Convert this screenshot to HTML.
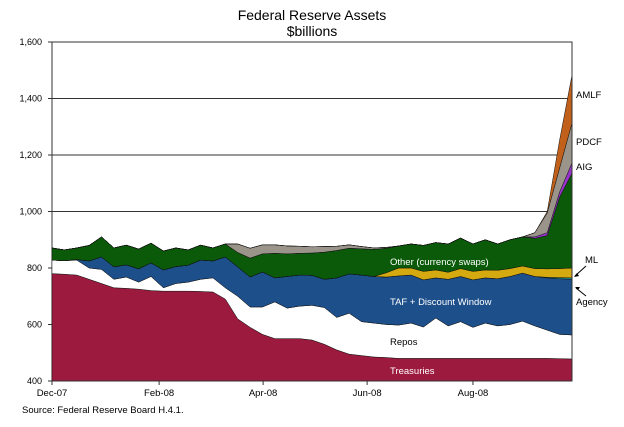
<!DOCTYPE html>
<html><head><meta charset="utf-8"><style>
body{margin:0;background:#fff;}
svg{display:block;font-family:"Liberation Sans","DejaVu Sans",sans-serif;}
</style></head><body>
<svg id="chart" width="624" height="427" viewBox="0 0 624 427" xmlns="http://www.w3.org/2000/svg">
<text x="312" y="20" text-anchor="middle" font-size="14">Federal Reserve Assets</text>
<text x="312" y="36" text-anchor="middle" font-size="14">$billions</text>
<g id="grid"></g>
<g id="areas"></g>
<g id="axes"></g>
<g id="labels"></g>
<text x="22" y="413" font-size="9.5">Source: Federal Reserve Board H.4.1.</text>
</svg>
<script>
const xTickLabels = ["Dec-07","Feb-08","Apr-08","Jun-08","Aug-08"];
const xTickIndex = [0, 8.65, 17.05, 25.45, 34];
const yTicks = [400,600,800,1000,1200,1400,1600];
const seriesNames = ["Treasuries","Repos","TAF + Discount Window","Agency","ML","Other (currency swaps)","AIG","PDCF","AMLF"];
const treasuries = [780,778,775,760,745,730,728,725,720,718,718,718,717,715,690,620,590,565,550,550,550,545,530,510,495,490,485,483,480,480,480,480,480,480,480,480,480,480,480,480,480,479,478];
const repos = [48,48,53,40,50,30,40,25,50,12,27,32,43,50,40,80,72,97,130,108,115,123,130,115,145,120,120,117,118,125,111,143,115,130,110,125,115,120,132,115,100,86,85];
const taf = [0,0,2,25,44,44,43,47,48,63,60,60,68,60,109,104,106,124,85,112,110,106,100,140,139,165,165,168,174,170,167,142,165,160,168,160,167,170,170,175,185,197,197];
const agency = [0,0,0,0,0,0,0,0,0,0,0,0,0,0,0,0,0,0,0,0,0,0,0,0,0,0,0,0,0,0,0,0,0,0,0,0,0,0,0,0,2,4,5];
const ml = [0,0,0,0,0,0,0,0,0,0,0,0,0,0,0,0,0,0,0,0,0,0,0,0,0,0,0,15,28,25,30,28,25,28,30,28,30,28,25,28,30,32,35];
const other = [43,38,41,55,71,67,70,70,70,67,66,54,53,46,46,51,67,64,87,80,77,79,96,97,91,93,96,87,78,85,92,97,100,108,97,107,93,102,103,107,118,253,336];
const aig = [0,0,0,0,0,0,0,0,0,0,0,0,0,0,0,0,0,0,0,0,0,0,0,0,0,0,0,0,0,0,0,0,0,0,0,0,0,0,0,5,10,18,36];
const pdcf = [0,0,0,0,0,0,0,0,0,0,0,0,0,0,0,30,35,32,30,28,25,22,20,15,12,8,5,3,0,0,0,0,0,0,0,0,0,0,0,15,70,85,141];
const amlf = [0,0,0,0,0,0,0,0,0,0,0,0,0,0,0,0,0,0,0,0,0,0,0,0,0,0,0,0,0,0,0,0,0,0,0,0,0,0,0,0,5,99,170];

const NS="http://www.w3.org/2000/svg";
const L=52,R=572,T=42,B=381;
const n=treasuries.length;
function xs(i){return L+i*(R-L)/(n-1);}
function ys(v){return B-(Math.max(v,400)-400)*(B-T)/1200;}
function mk(tag,attrs,parent){const e=document.createElementNS(NS,tag);for(const k in attrs)e.setAttribute(k,attrs[k]);parent.appendChild(e);return e;}
const grid=document.getElementById('grid'),areas=document.getElementById('areas'),axes=document.getElementById('axes'),labels=document.getElementById('labels');
mk('rect',{x:L,y:T,width:R-L,height:B-T,fill:'#fff',stroke:'#333','stroke-width':1},grid);
yTicks.forEach(v=>{
  const g=mk('line',{x1:L-4,x2:R,y1:ys(v),y2:ys(v),stroke:'#333','stroke-width':1},grid);
  
  
  const t=mk('text',{x:L-10,y:ys(v)+3,'text-anchor':'end','font-size':9},axes);
  t.textContent=v.toLocaleString('en-US');
  
  
});
xTickLabels.forEach((lab,k)=>{
  const x=xs(xTickIndex[k]);
  mk('line',{x1:x,x2:x,y1:B,y2:B+4,stroke:'#333'},axes);
  const t=mk('text',{x:x,y:B+15,'text-anchor':'middle','font-size':9.5},axes);
  t.textContent=lab;
  
  
});
const series=[treasuries,repos,taf,agency,ml,other,aig,pdcf,amlf];
const colors=['#9b1a3e','#ffffff','#1d4f8a','#1a9a9a','#d4aa10','#0a5a0a','#9933cc','#9a948a','#c0601a'];
const names=['treasuries-area','repos-area','taf-area','agency-area','ml-area','other-area','aig-area','pdcf-area','amlf-area'];
let base=new Array(n).fill(0);
series.forEach((s,k)=>{
  const top=base.map((b,i)=>b+s[i]);
  let d='M'+xs(0)+','+ys(top[0]);
  for(let i=1;i<n;i++)d+=' L'+xs(i)+','+ys(top[i]);
  for(let i=n-1;i>=0;i--)d+=' L'+xs(i)+','+ys(base[i]);
  d+='Z';
  const p=mk('path',{d:d,fill:colors[k],stroke:'#111','stroke-width':0.5,'stroke-linejoin':'round'},areas);
  
  
  base=top;
});
mk('line',{x1:L,x2:R,y1:B,y2:B,stroke:'#333'},axes);
mk('line',{x1:R,x2:R,y1:T,y2:B,stroke:'#333'},axes);
function lab(txt,x,y,col,name,anchor){
  const t=mk('text',{x:x,y:y,'font-size':9.5,fill:col,'text-anchor':anchor||'start'},labels);
  t.textContent=txt;
  
  
}
lab('Other (currency swaps)',390,265,'#fff','other-label');
lab('TAF + Discount Window',390,305,'#fff','taf-label');
lab('Repos',390,345,'#000','repos-label');
lab('Treasuries',390,374,'#fff','treasuries-label');
lab('AMLF',576,98,'#000','amlf-label');
lab('PDCF',576,145,'#000','pdcf-label');
lab('AIG',576,170,'#000','aig-label');
lab('ML',585,263,'#000','ml-label');
lab('Agency',576,305,'#000','agency-label');
mk('line',{x1:586,y1:266,x2:575,y2:276,stroke:'#000'},labels);
mk('path',{d:'M574,277 l5,-1 l-2,-3z',fill:'#000'},labels);
mk('line',{x1:586,y1:296,x2:576,y2:288,stroke:'#000'},labels);
mk('path',{d:'M575,287 l5,0 l-2,3z',fill:'#000'},labels);
</script>
</body></html>
